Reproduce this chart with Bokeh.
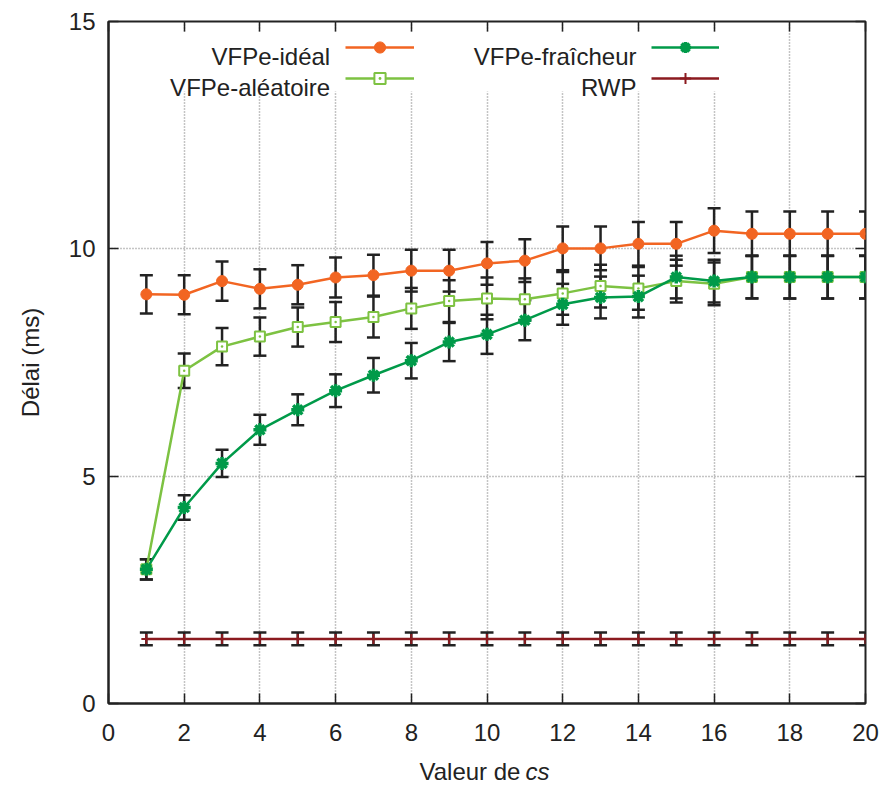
import numpy as np
from bokeh.plotting import figure
from bokeh.models import (Range1d, FixedTicker, LinearAxis, Legend, LegendItem,
                          Label, BoxAnnotation, Title)
from bokeh.embed import file_html
from bokeh.resources import INLINE

# ---------------- data ----------------
cs = list(range(1, 21))

ideal = [9.00, 8.99, 9.29, 9.12, 9.21, 9.37, 9.42, 9.52, 9.52, 9.68,
         9.74, 10.01, 10.01, 10.11, 10.11, 10.40, 10.33, 10.33, 10.33, 10.33]
ideal_err = [0.42, 0.43, 0.43, 0.43, 0.43, 0.44, 0.45, 0.46, 0.46, 0.47,
             0.47, 0.48, 0.48, 0.48, 0.48, 0.49, 0.49, 0.49, 0.49, 0.49]

aleatoire = [2.95, 7.32, 7.85, 8.07, 8.28, 8.39, 8.50, 8.69, 8.85, 8.91,
             8.89, 9.02, 9.18, 9.13, 9.29, 9.23, 9.38, 9.38, 9.38, 9.38]
aleatoire_err = [0.22, 0.38, 0.41, 0.42, 0.43, 0.44, 0.45, 0.45, 0.46, 0.46,
                 0.46, 0.47, 0.47, 0.47, 0.47, 0.47, 0.47, 0.47, 0.47, 0.47]

fraicheur = [2.95, 4.31, 5.28, 6.02, 6.46, 6.88, 7.22, 7.54, 7.95, 8.12,
             8.43, 8.78, 8.93, 8.95, 9.38, 9.29, 9.38, 9.38, 9.38, 9.38]
fraicheur_err = [0.22, 0.27, 0.30, 0.33, 0.34, 0.36, 0.38, 0.39, 0.42, 0.43,
                 0.44, 0.45, 0.46, 0.46, 0.47, 0.47, 0.47, 0.47, 0.47, 0.47]

rwp = [1.42] * 20
rwp_err = [0.14] * 20

series_names = ["VFPe-idéal", "VFPe-aléatoire", "VFPe-fraîcheur", "RWP"]
x_ticks = [0, 2, 4, 6, 8, 10, 12, 14, 16, 18, 20]
y_ticks = [0, 5, 10, 15]
x_label_main = "Valeur de"
x_label_ital = "cs"
y_label = "Délai (ms)"

# ---------------- styles ----------------
FONT = "Liberation Sans"
FS = "24px"
INK = "#222222"
colors = ["#f26522", "#7dc242", "#009a49", "#8b1a1f"]

p = figure(frame_width=757, frame_height=682, output_backend="svg",
           toolbar_location=None, x_range=Range1d(0, 20), y_range=Range1d(0, 15),
           min_border_left=108, min_border_right=15, min_border_top=21,
           min_border_bottom=85)
p.background_fill_color = "white"
p.border_fill_color = "white"
p.outline_line_color = INK
p.outline_line_width = 2

for ax, ticks in ((p.xaxis[0], x_ticks), (p.yaxis[0], y_ticks)):
    ax.ticker = FixedTicker(ticks=ticks)
    ax.major_tick_in = 10
    ax.major_tick_out = 0
    ax.minor_tick_line_color = None
    ax.axis_line_color = INK
    ax.axis_line_width = 2
    ax.major_tick_line_color = INK
    ax.major_tick_line_width = 1.5
    ax.major_label_text_font = FONT
    ax.major_label_text_font_size = FS
    ax.major_label_text_color = INK
    ax.axis_label_text_font = FONT
    ax.axis_label_text_font_size = FS
    ax.axis_label_text_font_style = "normal"
    ax.axis_label_text_color = INK

p.xaxis.major_label_standoff = 20
p.yaxis.major_label_standoff = 13
p.yaxis.axis_label = y_label
p.yaxis.axis_label_standoff = 22

# mirror ticks on top and right (no labels)
for place, ticks in (("above", x_ticks), ("right", y_ticks)):
    ax = LinearAxis(ticker=FixedTicker(ticks=ticks), major_tick_in=10, major_tick_out=0,
                    minor_tick_line_color=None, axis_line_color=None,
                    major_tick_line_color=INK, major_tick_line_width=1.5,
                    major_label_overrides={t: "" for t in ticks},
                    major_label_standoff=0)
    p.add_layout(ax, place)

for g in (p.xgrid[0], p.ygrid[0]):
    g.grid_line_color = "#8a8a8a"
    g.grid_line_width = 1.5
    g.grid_line_dash = "1 2"

# x axis title: "Valeur de" + italic "cs" on the same line
t1 = Title(text=x_label_main, align="left", offset=311, standoff=-82,
           vertical_align="bottom", text_font=FONT, text_font_size=FS,
           text_font_style="normal", text_color=INK)
t2 = Title(text=x_label_ital, align="left", offset=417, standoff=-82,
           vertical_align="bottom", text_font=FONT, text_font_size=FS,
           text_font_style="italic", text_color=INK)
p.add_layout(t1, "below")
p.add_layout(t2, "below")

# ---------------- series ----------------
markers = [
    dict(marker="circle", size=11, fill_color=colors[0], line_color=colors[0], line_width=1),
    dict(marker="square_dot", size=10, fill_color="white", line_color=colors[1], line_width=2),
    dict(marker="asterisk", size=13, line_color=colors[2], line_width=3.5),
    dict(marker="cross", size=10, line_color=colors[3], line_width=2),
]
vals = [ideal, aleatoire, fraicheur, rwp]
errs = [ideal_err, aleatoire_err, fraicheur_err, rwp_err]

for v, e in zip(vals, errs):
    v = np.array(v)
    e = np.array(e)
    lo = v - e
    hi = v + e
    p.segment(x0=cs, y0=lo, x1=cs, y1=hi, line_color=INK, line_width=2.5)
    p.scatter(x=cs + cs, y=list(lo) + list(hi), marker="dash", size=13,
              line_color=INK, line_width=2.5)

items = []
for v, c, m in zip(vals, colors, markers):
    ln = p.line(cs, v, line_color=c, line_width=2.5)
    sc = p.scatter(cs, v, **m)
    items.append((ln, sc))

# ---------------- legend ----------------
box = BoxAnnotation(left=52, right=632, top=671, bottom=612,
                    left_units="screen", right_units="screen",
                    top_units="screen", bottom_units="screen",
                    fill_color="white", fill_alpha=1.0, line_color=None)
p.add_layout(box)

leg_cols = [(items[0:2], 236.7, 69, 221.7, series_names[0:2]),
            (items[2:4], 542.7, 68, 528.0, series_names[2:4])]
for its, gx, gw, tx, names in leg_cols:
    leg = Legend(items=[LegendItem(label=" ", renderers=list(r)) for r in its],
                 location=(gx, 611), orientation="vertical",
                 glyph_width=gw, glyph_height=28, spacing=3, padding=0, margin=0,
                 label_standoff=0, label_width=0, label_height=0,
                 label_text_font=FONT, label_text_font_size=FS,
                 border_line_color=None, background_fill_alpha=0)
    p.add_layout(leg)
    for k, name in enumerate(names):
        p.add_layout(Label(x=tx, y=646.7 - 31 * k, x_units="screen", y_units="screen",
                           text=name, text_align="right", text_baseline="alphabetic",
                           text_font=FONT, text_font_size=FS, text_color=INK))

open("out.html", "w").write(file_html(p, INLINE))
